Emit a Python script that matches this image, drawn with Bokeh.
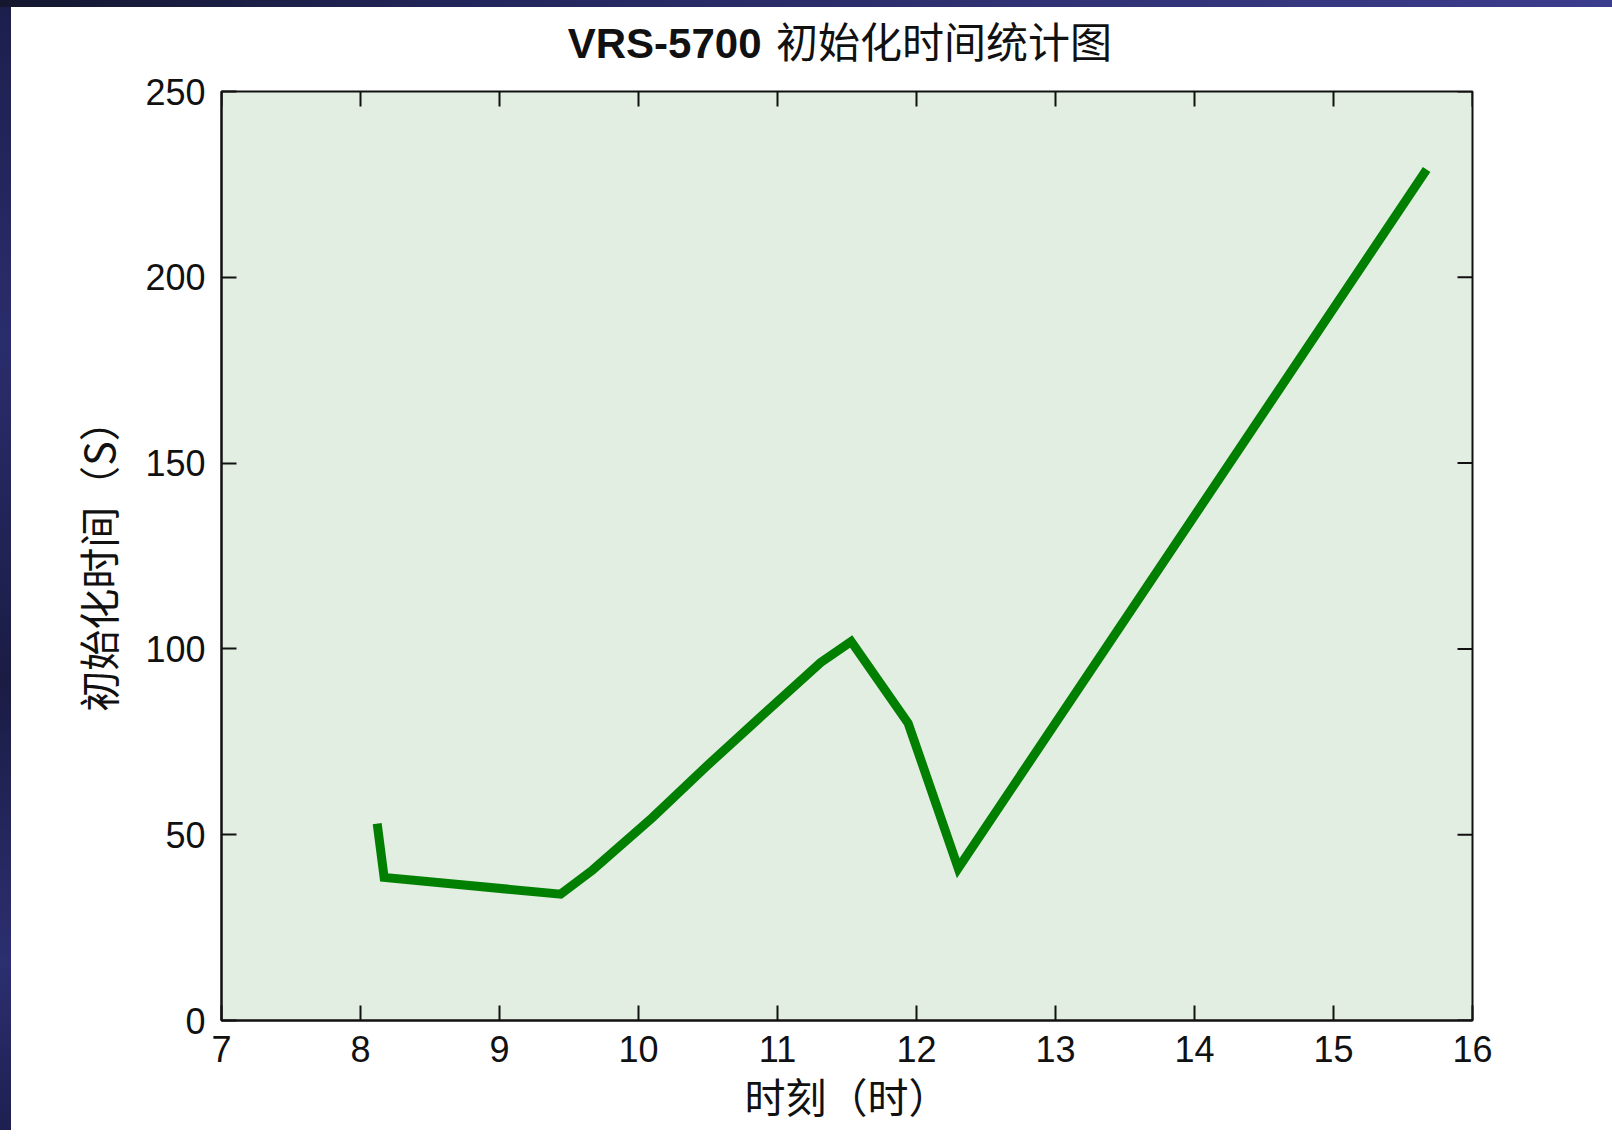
from bokeh.plotting import figure
from bokeh.models import Range1d, FixedTicker, Div
from bokeh.layouts import column, row
from bokeh.core.properties import value
from bokeh.embed import file_html
from bokeh.resources import INLINE

# ---- data ----
hours = [8.12, 8.17, 9.44, 9.67, 10.10, 10.48, 10.89, 11.31, 11.53, 11.94, 12.30, 15.67]
init_time = [53, 38.5, 34, 40.5, 54.6, 68.1, 82.1, 96.3, 102, 80, 41, 229]
x_ticks = [7, 8, 9, 10, 11, 12, 13, 14, 15, 16]
y_ticks = [0, 50, 100, 150, 200, 250]
title_latin = "VRS-5700"
title_cjk = "初始化时间统计图"
x_label = "时刻（时）"
y_label = "初始化时间（S）"

LAT = "Liberation Sans"
CJK = "Noto Sans CJK SC"
MIX = "Liberation Sans, Noto Sans CJK SC"
INK = "#111111"

x_range = Range1d(7, 16)
y_range = Range1d(0, 250)

# ---- title strip (real text in its own small svg figure) ----
tf = figure(
    title=None,
    frame_width=1251, frame_height=63,
    x_range=x_range, y_range=Range1d(0, 63),
    x_axis_type=None, y_axis_type=None,
    output_backend="svg", toolbar_location=None,
    min_border_left=210, min_border_right=140,
    min_border_top=0, min_border_bottom=0,
    background_fill_color="white", border_fill_color="white",
    outline_line_color=None,
)
tf.text(x=[10.885], y=[27], text=[title_latin], text_align="right",
        text_baseline="alphabetic", text_font=value(LAT),
        text_font_style="bold", text_font_size="42px", text_color=INK)
tf.text(x=[10.99], y=[27], text=[title_cjk], text_align="left",
        text_baseline="alphabetic", text_font=value(MIX),
        text_font_style="normal", text_font_size="42px", text_color=INK)

# ---- main chart ----
p = figure(
    title=None,
    frame_width=1251, frame_height=929,
    x_range=x_range, y_range=y_range,
    output_backend="svg", toolbar_location=None,
    min_border_left=210, min_border_right=140,
    min_border_top=21, min_border_bottom=110,
    background_fill_color="#e2eee2", border_fill_color="white",
    outline_line_color=INK, outline_line_width=2,
)
p.grid.visible = False

def style_axis(ax, ticks):
    ax.ticker = FixedTicker(ticks=ticks)
    ax.major_tick_in = 15
    ax.major_tick_out = 0
    ax.minor_tick_in = 0
    ax.minor_tick_out = 0
    ax.major_tick_line_color = INK
    ax.major_tick_line_width = 2
    ax.axis_line_color = INK
    ax.axis_line_width = 2
    ax.major_label_text_font = LAT
    ax.major_label_text_font_size = "36px"
    ax.major_label_text_color = INK
    ax.axis_label_text_font = CJK
    ax.axis_label_text_font_size = "41px"
    ax.axis_label_text_font_style = "normal"
    ax.axis_label_text_color = INK

xa = p.xaxis[0]
ya = p.yaxis[0]
style_axis(xa, x_ticks)
style_axis(ya, y_ticks)
xa.major_label_standoff = 15
ya.major_label_standoff = 16
xa.axis_label = x_label
xa.axis_label_standoff = 0
ya.axis_label = y_label
ya.axis_label_standoff = 15

# inward ticks on the top and right edges of the box
p.ray(x=x_ticks, y=[y_range.end] * len(x_ticks), length=15, length_units="screen",
      angle=-90, angle_units="deg", line_color=INK, line_width=2)
p.ray(x=[x_range.end] * len(y_ticks), y=y_ticks, length=15, length_units="screen",
      angle=180, angle_units="deg", line_color=INK, line_width=2)

p.line(hours, init_time, line_color="#007f00", line_width=9, line_join="miter")

# ---- slide background bands ----
top_band = Div(text="", width=1612, height=7, margin=0,
               styles={"background": "linear-gradient(90deg, #14172e 0%, #23265c 30%, #2e3070 60%, #3b3d8d 100%)"})
left_band = Div(text="", width=11, height=1123, margin=0,
                styles={"background": "linear-gradient(180deg, #1c1f4c 0%, #2a2d6c 30%, #1a1c44 60%, #2c2f70 85%, #1d2050 100%)"})

layout = column(top_band, row(left_band, column(tf, p, spacing=0), spacing=0), spacing=0)

open("out.html", "w").write(file_html(layout, INLINE))
